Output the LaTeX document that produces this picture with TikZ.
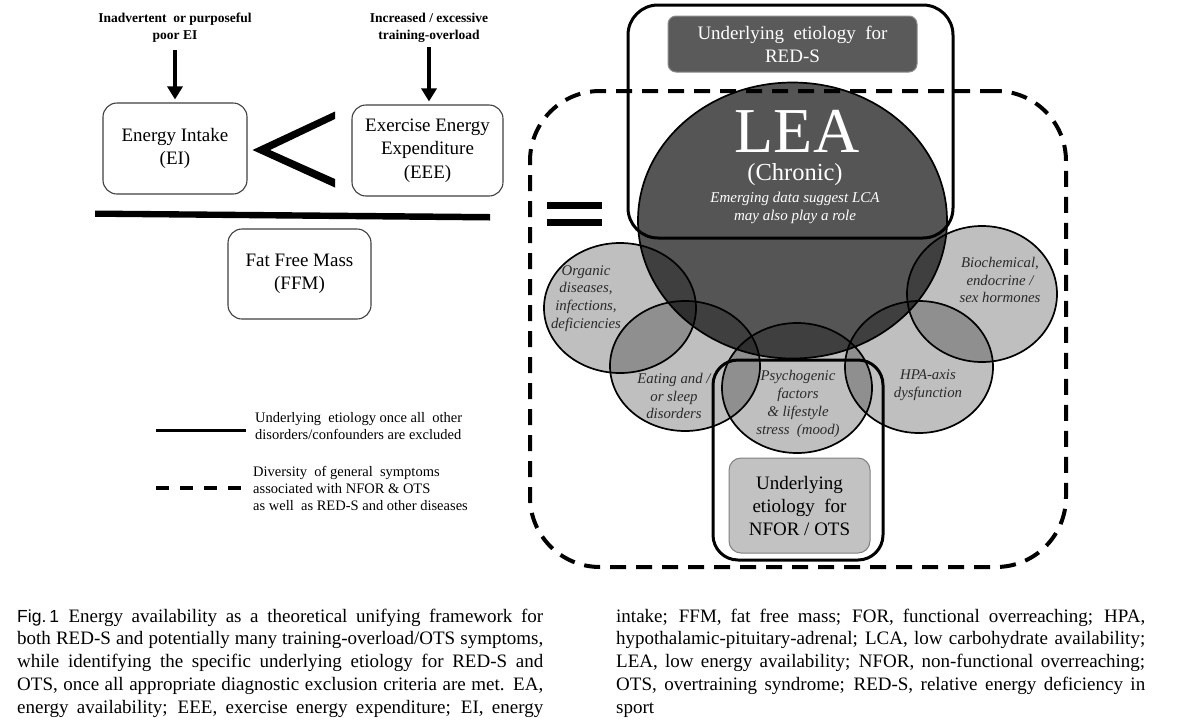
\documentclass[tikz,border=0pt]{standalone}
\usepackage{fontspec}
\setmainfont{Liberation Serif}
\setsansfont{Liberation Sans}
\usetikzlibrary{arrows.meta,shapes.geometric}
\definecolor{leagray}{HTML}{555555}
\definecolor{redsin}{HTML}{5A5A5A}
\definecolor{nforin}{HTML}{C2C2C2}
\definecolor{vtext}{HTML}{2A2A2A}
\begin{document}
\begin{tikzpicture}[x=1pt,y=-1pt,
  ebox/.style={draw=black!75, line width=1.1pt, rounded corners=14pt, align=center,
    font=\fontsize{19}{23.5}\selectfont, inner sep=0pt},
  toplbl/.style={align=center, inner sep=2pt, font=\bfseries\fontsize{13.5}{17}\selectfont},
  bigarrow/.style={line width=4pt, -{Triangle[length=13pt,width=15pt]}},
  venn/.style={ellipse, draw=black, line width=1.7pt, fill=black, fill opacity=0.25, draw opacity=1, inner sep=0pt},
  vtxt/.style={align=center, inner sep=0pt, text=vtext, font=\itshape\fontsize{14.8}{17.8}\selectfont},
  frame/.style={draw=black, line width=3pt, inner sep=0pt},
  dashframe/.style={draw=black, line width=4pt, dash pattern=on 16pt off 10pt, rounded corners=70pt, inner sep=0pt},
  legtxt/.style={anchor=west, align=left, inner sep=0pt, font=\fontsize{14.5}{17}\selectfont},
  capl/.style={anchor=base west, inner sep=0pt, font=\fontsize{19}{22}\selectfont},
]
\useasboundingbox (0,0) rectangle (1200,721);
\fill[white] (0,0) rectangle (1200,721);

% ---------- left: energy availability fraction ----------
\node[toplbl] (lblEI) at (175,27.5) {Inadvertent~ or purposeful\\poor EI};
\node[toplbl] (lblEEE) at (429,27.5) {Increased / excessive\\training-overload};
\node[ebox, minimum width=144pt, minimum height=91pt] (EI) at (175,148.5) {Energy Intake\\(EI)};
\node[ebox, minimum width=151pt, minimum height=91pt] (EEE) at (427.5,150.5) {Exercise Energy\\Expenditure\\(EEE)};
\node[ebox, minimum width=143pt, minimum height=90pt] (FFM) at (299.5,274) {Fat Free Mass\\(FFM)};

\draw[bigarrow, shorten <=6pt, shorten >=3pt] (lblEI.south) -- (EI.north);
\draw[bigarrow, shorten <=3pt, shorten >=3pt] (lblEEE.south) -- (lblEEE.south |- EEE.north);

% less-than sign
\fill (335,111.5) -- (252.5,150) -- (335,187.5) -- (335,179) -- (270,150) -- (335,119) -- cycle;
% fraction bar
\fill (95,210.5) -- (490,214) -- (490,220.5) -- (95,216.8) -- cycle;
% equals sign
\fill (547,201.5) rectangle (602,208.8);
\fill (547,218.5) rectangle (602,225.8);

% ---------- right: LEA and overlapping factors ----------
\node[ellipse, draw=black, line width=1.7pt, fill=leagray, inner sep=0pt,
      minimum width=309pt, minimum height=276pt] (LEA) at (792.5,220.5) {};

\node[venn, minimum width=152pt, minimum height=130pt] (org) at (620,308) {};
\node[venn, minimum width=150pt, minimum height=130pt] (eat) at (685,366) {};
\node[venn, minimum width=150pt, minimum height=130pt] (psy) at (797,388) {};
\node[venn, minimum width=148pt, minimum height=132pt] (hpa) at (919,367) {};
\node[venn, minimum width=150pt, minimum height=136pt] (bio) at (982,294) {};

\node[vtxt] (orgT) at (586,298.5) {Organic\\diseases,\\infections,\\deficiencies};
\node[vtxt] (eatT) at (674,396) {Eating and /\\or sleep\\disorders};
\node[vtxt] (psyT) at (798,404) {Psychogenic\\factors\\\& lifestyle\\stress~ (mood)};
\node[vtxt] (hpaT) at (928,385.5) {HPA-axis\\dysfunction};
\node[vtxt] (bioT) at (1000,280) {Biochemical,\\endocrine /\\sex hormones};

% frames
\node[frame, rounded corners=30pt, minimum width=325pt, minimum height=233pt] (redsFrame) at (790.5,121.5) {};
\node[dashframe, minimum width=536pt, minimum height=476pt] (allFrame) at (798,329) {};
\node[frame, rounded corners=25pt, minimum width=170pt, minimum height=200pt] (nforFrame) at (798,460) {};

% etiology boxes
\node[draw=black!45, line width=1pt, fill=redsin, rounded corners=8pt, minimum width=249pt, minimum height=56pt,
      align=center, inner sep=0pt, text=white, font=\fontsize{19}{23}\selectfont] (reds) at (792.5,44)
      {Underlying~ etiology~ for\\RED-S};
\node[draw=black!50, line width=1pt, fill=nforin, rounded corners=12pt, minimum width=141pt, minimum height=95pt,
      align=center, inner sep=0pt, font=\fontsize{19}{23}\selectfont] (nfor) at (799.5,505.5)
      {Underlying\\etiology~ for\\NFOR / OTS};

% LEA texts
\node[text=white, anchor=base, inner sep=0pt, font=\fontsize{64}{64}\selectfont] (leaT) at (797,152) {LEA};
\node[text=white, anchor=base, inner sep=0pt, font=\fontsize{24.5}{25}\selectfont] (chronT) at (795,180) {(Chronic)};
\node[text=white, align=center, inner sep=0pt, font=\itshape\fontsize{15}{18}\selectfont] (emergT) at (795,207.5)
      {Emerging data suggest LCA\\may also play a role};

% ---------- legend ----------
\coordinate (ls1) at (156,430);
\coordinate (ls2) at (246,430);
\draw[line width=3pt] (ls1) -- (ls2);
\node[legtxt] (lt1) at (255,426.5) {Underlying~ etiology once all~ other\\disorders/confounders are excluded};
\coordinate (ld1) at (156,488);
\coordinate (ld2) at (241,488);
\draw[line width=4.5pt, dash pattern=on 13pt off 11pt] (ld1) -- (ld2);
\node[legtxt] (lt2) at (253,488) {Diversity~ of general~ symptoms\\associated with NFOR \& OTS\\as well~ as RED-S and other diseases};

% ---------- caption ----------
\node[capl] (c1) at (17,622) {\makebox[526pt][s]{{\sffamily\fontsize{17.5}{17.5}\selectfont Fig.\,1}\enspace Energy availability as a theoretical unifying framework for}};
\node[capl] (c2) at (17,644.75) {\makebox[526pt][s]{both RED-S and potentially many training-overload/OTS symptoms,}};
\node[capl] (c3) at (17,667.5) {\makebox[526pt][s]{while identifying the specific underlying etiology for RED-S and}};
\node[capl] (c4) at (17,690.25) {\makebox[526pt][s]{OTS, once all appropriate diagnostic exclusion criteria are met. EA,}};
\node[capl] (c5) at (17,713) {\makebox[526pt][s]{energy availability; EEE, exercise energy expenditure; EI, energy}};
\node[capl] (c6) at (616,622) {\makebox[529pt][s]{intake; FFM, fat free mass; FOR, functional overreaching; HPA,}};
\node[capl] (c7) at (616,644.75) {\makebox[529pt][s]{hypothalamic-pituitary-adrenal; LCA, low carbohydrate availability;}};
\node[capl] (c8) at (616,667.5) {\makebox[529pt][s]{LEA, low energy availability; NFOR, non-functional overreaching;}};
\node[capl] (c9) at (616,690.25) {\makebox[529pt][s]{OTS, overtraining syndrome; RED-S, relative energy deficiency in}};
\node[capl] (c10) at (616,713) {sport};
\end{tikzpicture}
\end{document}
